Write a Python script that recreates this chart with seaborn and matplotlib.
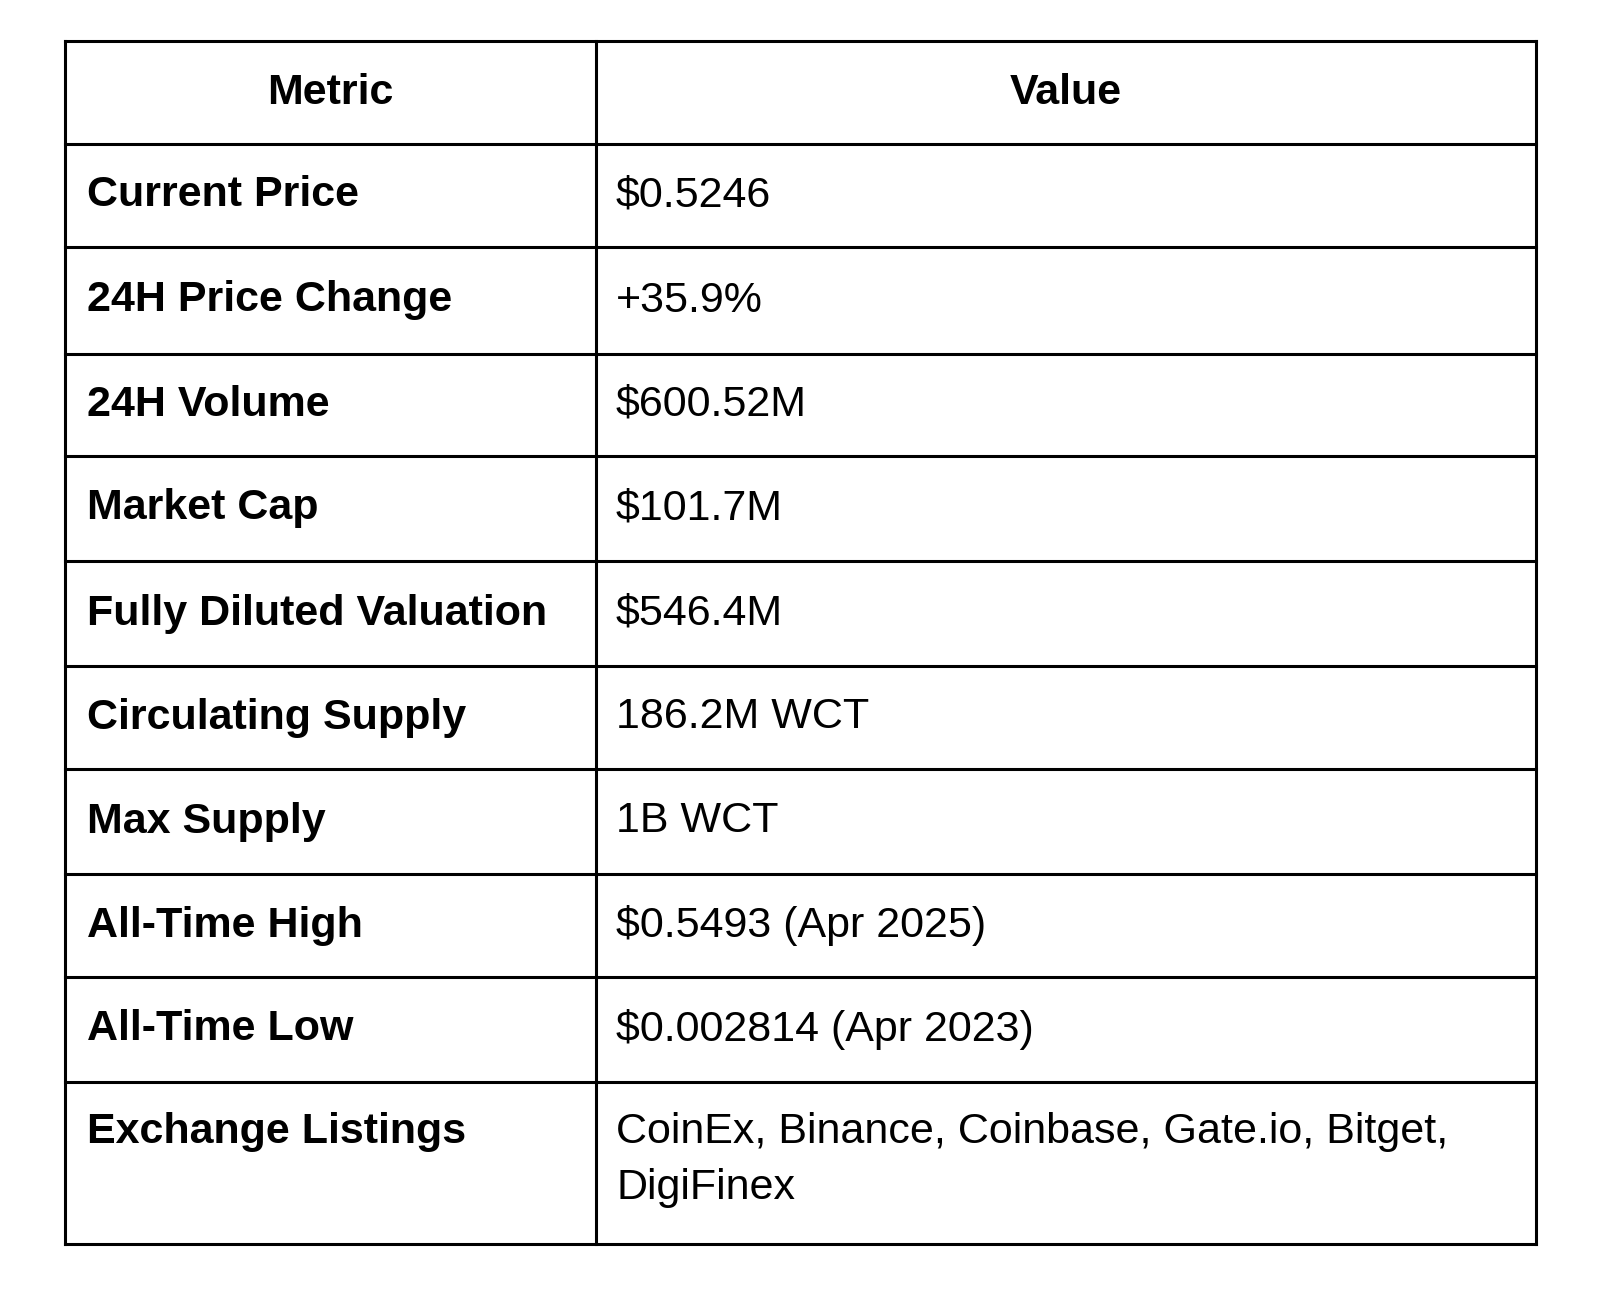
import matplotlib
matplotlib.use('Agg')
import matplotlib.pyplot as plt
import seaborn as sns

header = ["Metric", "Value"]
metrics = ["Current Price", "24H Price Change", "24H Volume", "Market Cap",
           "Fully Diluted Valuation", "Circulating Supply", "Max Supply",
           "All-Time High", "All-Time Low", "Exchange Listings"]
values = ["$0.5246", "+35.9%", "$600.52M", "$101.7M", "$546.4M", "186.2M WCT",
          "1B WCT", "$0.5493 (Apr 2025)", "$0.002814 (Apr 2023)",
          "CoinEx, Binance, Coinbase, Gate.io, Bitget,\nDigiFinex"]

sns.set_style("white")
plt.rcParams['font.family'] = ['Liberation Sans', 'DejaVu Sans']

# layout in pixels
row_edges = [41, 144, 247, 354, 456, 561, 666, 769, 874, 977, 1082, 1244]
x_left, x_mid, x_right = 65, 596, 1536
fs = 31

fig = plt.figure(figsize=(16, 13.12), dpi=100)
ax = fig.add_axes([0, 0, 1, 1])
ax.set_xlim(0, 1600)
ax.set_ylim(1312, 0)
ax.axis('off')

for y in row_edges:
    ax.plot([x_left, x_right], [y, y], color='black', lw=2.2, solid_capstyle='projecting')
for x in (x_left, x_mid, x_right):
    ax.plot([x, x], [row_edges[0], row_edges[-1]], color='black', lw=2.2, solid_capstyle='projecting')

yc = (row_edges[0] + row_edges[1]) / 2
ax.text((x_left + x_mid) / 2, yc, header[0], ha='center', va='center', fontsize=fs, fontweight='bold', color='black')
ax.text((x_mid + x_right) / 2, yc, header[1], ha='center', va='center', fontsize=fs, fontweight='bold', color='black')

for i, (m, v) in enumerate(zip(metrics, values)):
    top, bot = row_edges[i + 1], row_edges[i + 2]
    if "\n" in v:
        y, va = top + 30, 'top'
        ax.text(x_left + 22, y, m, ha='left', va=va, fontsize=fs, fontweight='bold', color='black')
        ax.text(x_mid + 20, y, v, ha='left', va=va, fontsize=fs, linespacing=1.5, color='black')
    else:
        y = (top + bot) / 2
        ax.text(x_left + 22, y, m, ha='left', va='center', fontsize=fs, fontweight='bold', color='black')
        ax.text(x_mid + 20, y, v, ha='left', va='center', fontsize=fs, color='black')

fig.savefig("out.png", dpi=100)
